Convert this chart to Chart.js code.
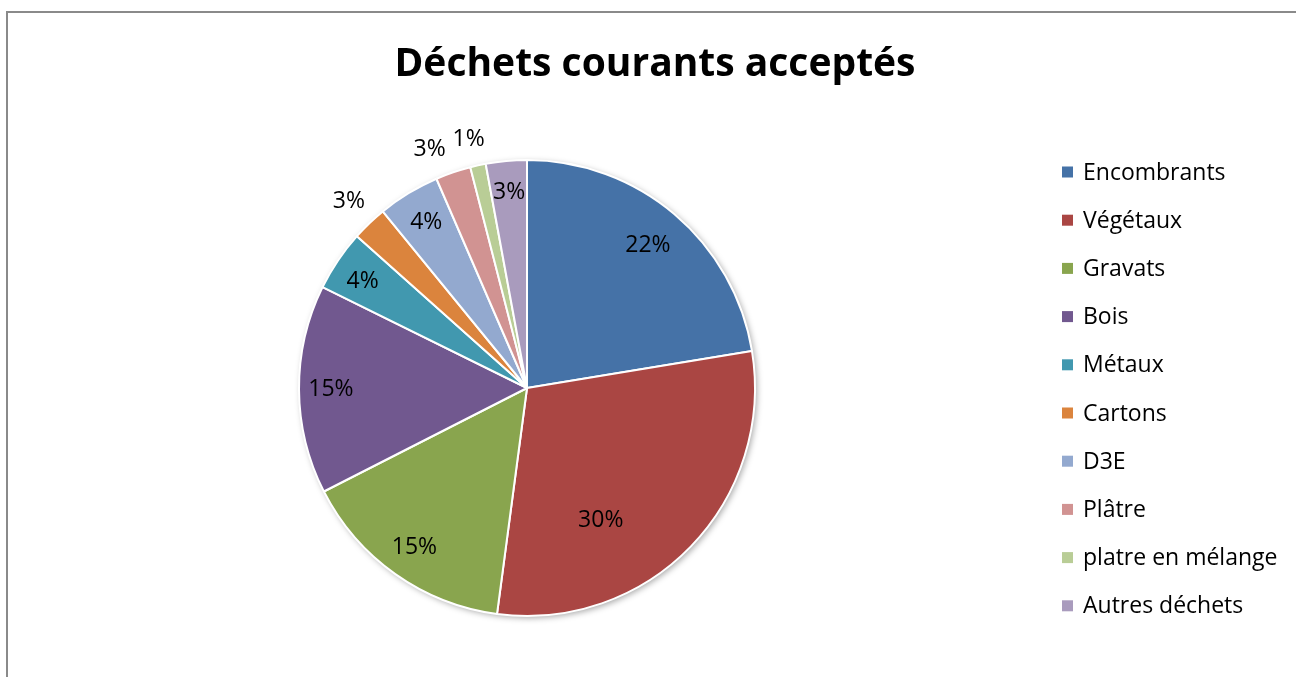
<!DOCTYPE html>
<html><head><meta charset="utf-8">
<script src="https://cdn.jsdelivr.net/npm/chart.js@4/dist/chart.umd.min.js"></script>
<style>html,body{margin:0;padding:0;background:#fff;overflow:hidden}#wrap{width:1296px;height:677px;position:relative}</style>
</head><body><div id="wrap"><canvas id="c" width="1296" height="677"></canvas></div>
<script>
const chartTitle = 'Déchets courants acceptés';
const categories = ['Encombrants', 'Végétaux', 'Gravats', 'Bois', 'Métaux', 'Cartons', 'D3E', 'Plâtre', 'platre en mélange', 'Autres déchets'];
const shares = [22.4, 29.7, 15.4, 14.8, 4.3, 2.5, 4.4, 2.5, 1.1, 2.9];
const sliceColors = ['#4572A7', '#AA4643', '#89A54E', '#71588F', '#4198AF', '#DB843D', '#93A9CF', '#D19392', '#B9CD96', '#A99BBD'];

const FONT = '"Open Sans", "Liberation Sans", sans-serif';

// label placement per slice: radius fraction and angular offset (deg)
const labelPlacement = [
  {r: 0.82, a: 0}, {r: 0.665, a: 16.8}, {r: 0.855, a: 0}, {r: 0.86, a: 0}, {r: 0.86, a: -1},
  {r: 1.13, a: 0}, {r: 0.85, a: 0}, {r: 1.13, a: -3.3}, {r: 1.12, a: -0.8}, {r: 0.86, a: 0}
];

const framePlugin = {
  id: 'frame',
  beforeDraw(chart) {
    const ctx = chart.ctx;
    ctx.save();
    ctx.fillStyle = '#fff';
    ctx.fillRect(0, 0, chart.width, chart.height);
    ctx.strokeStyle = '#8a8a8a';
    ctx.lineWidth = 2;
    ctx.beginPath();
    ctx.moveTo(7, chart.height);
    ctx.lineTo(7, 12);
    ctx.lineTo(chart.width, 12);
    ctx.stroke();
    // title
    ctx.fillStyle = '#000';
    ctx.font = 'bold 39px ' + FONT;
    ctx.textAlign = 'center';
    ctx.textBaseline = 'middle';
    ctx.fillText(chartTitle, 655, 65);
    ctx.restore();
  },
  beforeDatasetsDraw(chart) {
    const arc = chart.getDatasetMeta(0).data[0];
    if (!arc) return;
    const ctx = chart.ctx;
    ctx.save();
    ctx.shadowColor = 'rgba(0,0,0,0.35)';
    ctx.shadowBlur = 6;
    ctx.shadowOffsetX = 2;
    ctx.shadowOffsetY = 2;
    ctx.fillStyle = '#fff';
    ctx.beginPath();
    ctx.arc(arc.x, arc.y, arc.outerRadius, 0, Math.PI * 2);
    ctx.fill();
    ctx.restore();
  },
  afterDatasetsDraw(chart) {
    const ctx = chart.ctx;
    const meta = chart.getDatasetMeta(0);
    const data = chart.data.datasets[0].data;
    const total = data.reduce((s, v) => s + v, 0);
    ctx.save();
    ctx.fillStyle = '#000';
    ctx.font = '23px ' + FONT;
    ctx.textAlign = 'center';
    ctx.textBaseline = 'middle';
    meta.data.forEach((el, i) => {
      const p = labelPlacement[i];
      const mid = (el.startAngle + el.endAngle) / 2 + p.a * Math.PI / 180;
      const rr = el.outerRadius * p.r;
      ctx.fillText(Math.round(data[i] / total * 100) + '%', el.x + Math.cos(mid) * rr, el.y + Math.sin(mid) * rr);
    });
    // legend
    const lx = 1062, ly0 = 172, step = 48.2;
    chart.data.labels.forEach((lab, i) => {
      const y = ly0 + i * step;
      ctx.fillStyle = sliceColors[i];
      ctx.fillRect(lx, y - 5.5, 11, 11);
      ctx.fillStyle = '#000';
      ctx.textAlign = 'left';
      ctx.fillText(lab, 1083, y + 1);
    });
    ctx.restore();
  }
};

new Chart(document.getElementById('c'), {
  type: 'pie',
  data: {
    labels: categories,
    datasets: [{
      data: shares,
      backgroundColor: sliceColors,
      borderColor: '#ffffff',
      borderWidth: 2
    }]
  },
  options: {
    responsive: false,
    animation: false,
    devicePixelRatio: 1,
    layout: {padding: {left: 298, right: 540, top: 159, bottom: 60}},
    plugins: {legend: {display: false}, title: {display: false}, tooltip: {enabled: false}}
  },
  plugins: [framePlugin]
});
</script></body></html>
